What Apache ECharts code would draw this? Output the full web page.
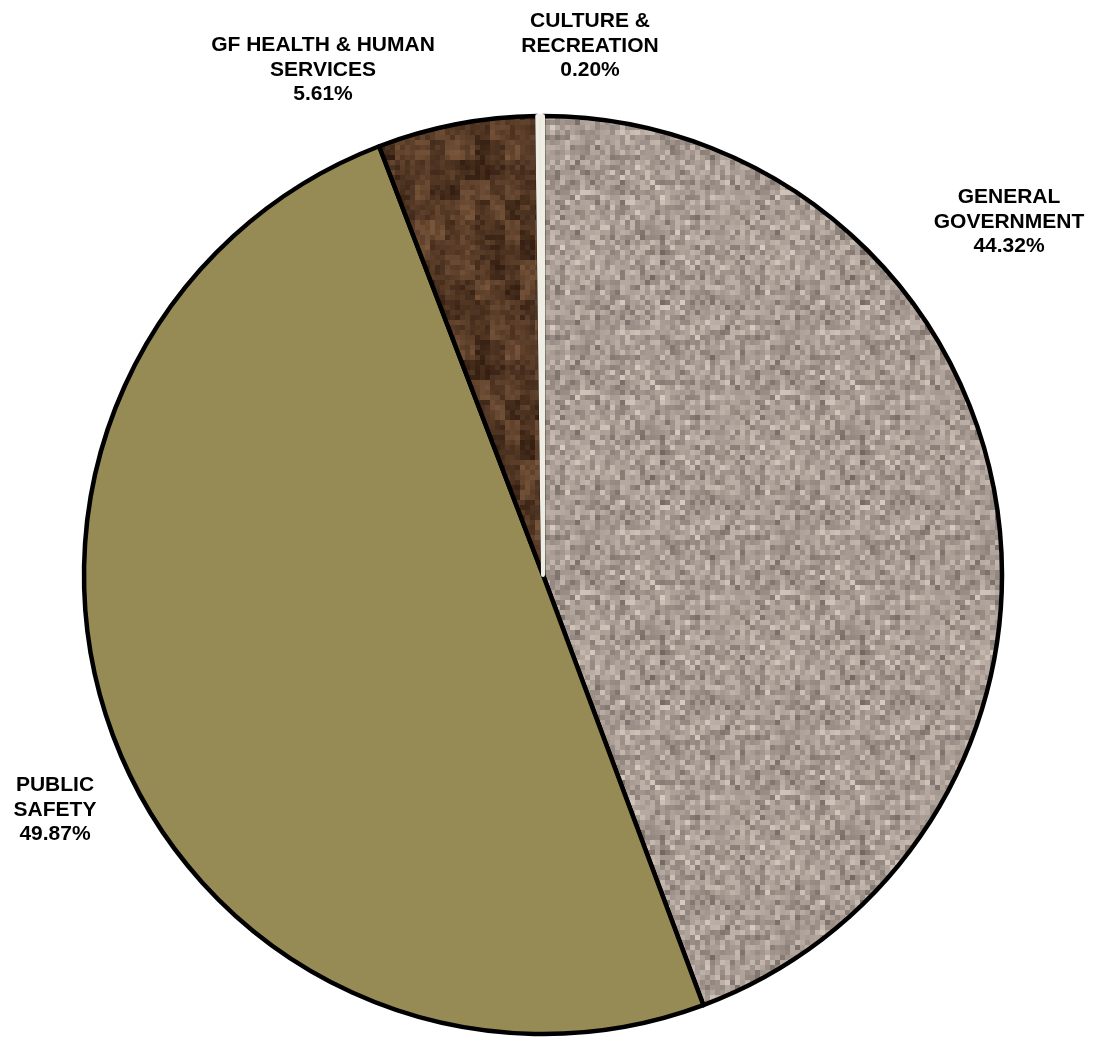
<!DOCTYPE html>
<html>
<head>
<meta charset="utf-8">
<title>General Fund Expenditures by Function</title>
<script src="https://cdn.jsdelivr.net/npm/echarts@6/dist/echarts.min.js"></script>
<style>
  html, body { margin: 0; padding: 0; background: #ffffff; }
  #chart { width: 1094px; height: 1047px; }
</style>
</head>
<body>
<div id="chart"></div>
<script>
// Functions (clockwise from 12 o'clock) and their share of spending, in percent
const categories = [
  'GENERAL\nGOVERNMENT',
  'PUBLIC\nSAFETY',
  'GF HEALTH & HUMAN\nSERVICES',
  'CULTURE &\nRECREATION'
];
const shares = [44.32, 49.87, 5.61, 0.20];

// Deterministic hash used for the fabric-like slice textures
function hash(x, y, seed) {
  let h = (x * 374761393 + y * 668265263 + seed * 982451653) | 0;
  h = (h ^ (h >>> 13)) * 1274126177 | 0;
  h = h ^ (h >>> 16);
  return ((h >>> 0) % 10000) / 10000;
}

// Grey-beige speckled texture
function makeSpeckle() {
  const c = document.createElement('canvas');
  const cell = 5, n = 40;
  c.width = c.height = cell * n;
  const g = c.getContext('2d');
  for (let i = 0; i < n; i++) {
    for (let j = 0; j < n; j++) {
      const v = (hash(i, j, 7) + hash(i, j, 19) + hash(i, j, 31)) / 3 - 0.5;
      const k = v * 115;
      const r = Math.round(166 + k), gg = Math.round(154 + k * 0.98), b = Math.round(146 + k * 0.95);
      g.fillStyle = 'rgb(' + r + ',' + gg + ',' + b + ')';
      g.fillRect(i * cell, j * cell, cell, cell);
    }
  }
  return c;
}

// Dark brown mottled texture
function makeBark() {
  const c = document.createElement('canvas');
  const cell = 5, n = 40;
  c.width = c.height = cell * n;
  const g = c.getContext('2d');
  for (let i = 0; i < n; i++) {
    for (let j = 0; j < n; j++) {
      const fine = hash(i, j, 3) - 0.5;
      const coarse = hash(Math.floor(i / 3), Math.floor(j / 4), 11) - 0.5;
      const k = fine * 28 + coarse * 45;
      const r = Math.round(86 + k), gg = Math.round(58 + k * 0.8), b = Math.round(38 + k * 0.6);
      g.fillStyle = 'rgb(' + r + ',' + gg + ',' + b + ')';
      g.fillRect(i * cell, j * cell, cell, cell);
    }
  }
  return c;
}

const fills = [
  { image: makeSpeckle(), repeat: 'repeat' },
  '#968b54',
  { image: makeBark(), repeat: 'repeat' },
  '#ebe7dc'
];

// Label anchor points (text block centres)
const labelSpots = [
  [1009, 222],
  [55, 810],
  [323, 70],
  [590, 46]
];

const chart = echarts.init(document.getElementById('chart'), null, { renderer: 'canvas' });

chart.setOption({
  animation: false,
  backgroundColor: '#ffffff',
  series: [{
    type: 'pie',
    center: [543, 575],
    radius: [0, 459],
    startAngle: 90,
    clockwise: true,
    avoidLabelOverlap: false,
    silent: true,
    data: categories.map((name, i) => ({
      name: name,
      value: shares[i],
      itemStyle: i === 3
        ? { color: fills[i], borderColor: '#efece3', borderWidth: 4 }
        : { color: fills[i], borderColor: '#000000', borderWidth: 4.5 }
    })),
    label: {
      show: true,
      position: 'outside',
      formatter: p => p.name + '\n' + p.percent.toFixed(2) + '%',
      fontFamily: '"Liberation Sans", Arial, sans-serif',
      fontWeight: 'bold',
      fontSize: 21,
      lineHeight: 24.5,
      color: '#000000',
      align: 'center'
    },
    labelLine: { show: false },
    labelLayout: p => ({
      x: labelSpots[p.dataIndex][0],
      y: labelSpots[p.dataIndex][1],
      align: 'center',
      verticalAlign: 'middle'
    })
  }]
});
</script>
</body>
</html>
